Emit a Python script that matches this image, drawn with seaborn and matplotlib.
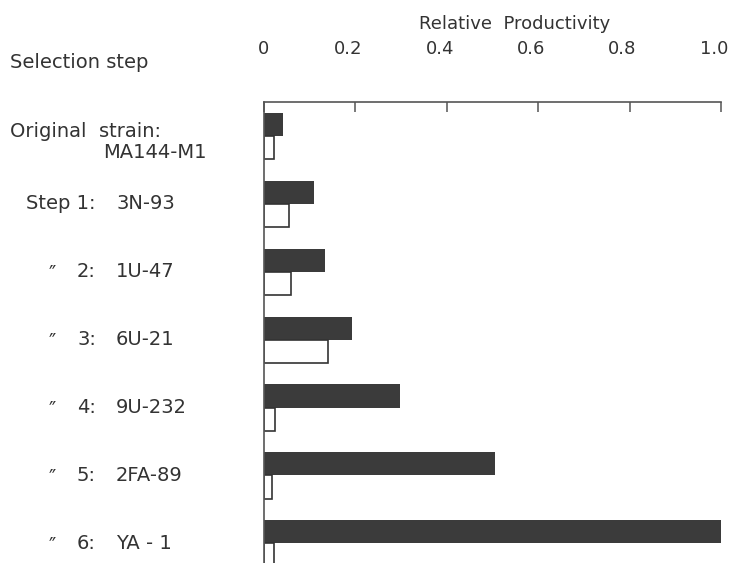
import matplotlib
matplotlib.use('Agg')
import matplotlib.pyplot as plt
import matplotlib.transforms as mtransforms
import seaborn as sns
import pandas as pd

# values
strains = ['MA144-M1', '3N-93', '1U-47', '6U-21', '9U-232', '2FA-89', 'YA - 1']
step_numbers = ['', 'Step 1:', '2:', '3:', '4:', '5:', '6:']
dark_values = [0.042, 0.109, 0.133, 0.193, 0.298, 0.505, 1.0]
open_values = [0.022, 0.055, 0.059, 0.140, 0.024, 0.018, 0.022]
series = ['dark', 'open']
x_ticks = [0, 0.2, 0.4, 0.6, 0.8, 1.0]
x_ticklabels = ['0', '0.2', '0.4', '0.6', '0.8', '1.0']

ink = '#333333'
fs = 14

df = pd.DataFrame({
    'strain': strains * 2,
    'series': [series[0]] * len(strains) + [series[1]] * len(strains),
    'value': dark_values + open_values,
})

sns.set_style('white')
plt.rcParams['font.family'] = ['DejaVu Sans']

fig = plt.figure(figsize=(7.3, 5.63), dpi=100)
ax = fig.add_axes([0.3616, 0.0, 0.626, 0.8188])

sns.barplot(data=df, x='value', y='strain', hue='series', orient='h',
            palette={'dark': '#3b3b3b', 'open': 'white'}, width=0.68,
            legend=False, ax=ax)

# dark bars solid, open bars outline only
for bar in ax.containers[0]:
    bar.set_edgecolor('none')
for bar in ax.containers[1]:
    bar.set_facecolor('none')
    bar.set_edgecolor(ink)
    bar.set_linewidth(1.2)

ax.set_xlim(0, 1.0)
ax.set_ylim(6.29, -0.5)

for side in ['right', 'bottom']:
    ax.spines[side].set_visible(False)
for side in ['top', 'left']:
    ax.spines[side].set_color('#555555')
    ax.spines[side].set_linewidth(1.2)

ax.xaxis.tick_top()
ax.set_xticks(x_ticks)
ax.set_xticklabels(x_ticklabels, fontsize=fs - 1, color=ink)
ax.tick_params(axis='x', direction='in', length=7, width=1.1, color='#555555', pad=32)
# the printed labels sit a little left of their ticks
shift = mtransforms.ScaledTranslation(-7 / 100, 0, fig.dpi_scale_trans)
for lab in ax.get_xticklabels()[1:]:
    lab.set_transform(lab.get_transform() + shift)
ax.set_yticks([])
ax.set_ylabel('')

ax.xaxis.set_label_position('top')
ax.set_xlabel('Relative  Productivity', fontsize=fs - 1, color=ink)
ax.xaxis.set_label_coords(0.549, 1.158)

# left-hand labels
trans = mtransforms.blended_transform_factory(fig.transFigure, ax.transData)
fig.text(10 / 730, 1 - 63 / 563, 'Selection step', fontsize=fs, color=ink, va='center')
ax.text(10 / 730, -0.07, 'Original  strain:', transform=trans, fontsize=fs,
        color=ink, va='center', ha='left')
ax.text(103 / 730, 0.25, strains[0], transform=trans, fontsize=fs,
        color=ink, va='center', ha='left')
for i in range(1, len(strains)):
    ax.text(96 / 730, i, step_numbers[i], transform=trans, fontsize=fs,
            color=ink, va='center', ha='right')
    ax.text(116 / 730, i, strains[i], transform=trans, fontsize=fs,
            color=ink, va='center', ha='left')
    if i >= 2:
        ax.text(52 / 730, i + 0.03, '″', transform=trans, fontsize=fs,
                color=ink, va='center', ha='center')

fig.savefig('out.png', dpi=100)
